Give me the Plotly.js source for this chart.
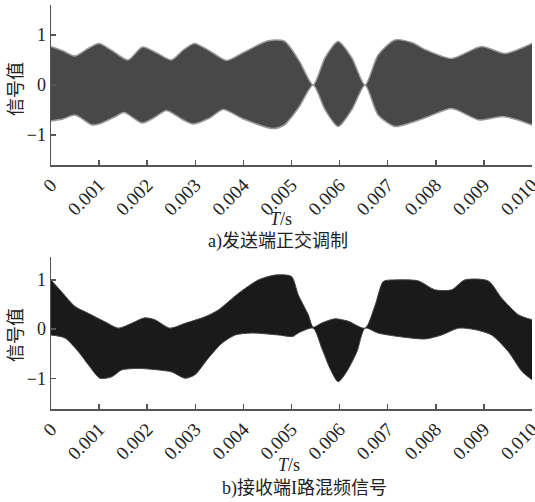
<!DOCTYPE html>
<html>
<head>
<meta charset="utf-8">
<script src="https://cdn.plot.ly/plotly-3.0.1.min.js"></script>
<style>
html,body{margin:0;padding:0;background:#fff;}
#chart{width:535px;height:502px;}
</style>
</head>
<body>
<div id="chart"></div>
<script>
// ---- Data (envelopes; time in seconds) ----
// a) transmitter quadrature-modulated signal
const topUpperT = [0,0.00025,0.0005,0.00075,0.001,0.00125,0.0016,0.0019,0.0022,0.0025,0.00275,0.00298,0.0033,0.00365,0.004,0.0045,0.00485,0.00515,0.00545,0.0057,0.00597,0.00625,0.00653,0.0068,0.00715,0.0075,0.0078,0.00833,0.00895,0.00944,0.01];
const topUpperV = [0.77,0.68,0.58,0.72,0.83,0.70,0.50,0.76,0.64,0.50,0.70,0.83,0.68,0.49,0.65,0.88,0.88,0.50,0.0,0.55,0.87,0.55,0.0,0.60,0.90,0.85,0.70,0.53,0.77,0.63,0.83];
const topLowerT = [0,0.00025,0.0005,0.00085,0.001,0.0013,0.00152,0.0019,0.0022,0.0024,0.00275,0.00295,0.0033,0.00358,0.004,0.0046,0.00485,0.00515,0.00545,0.0057,0.00597,0.00625,0.00653,0.0068,0.00715,0.0075,0.00785,0.00833,0.0089,0.0094,0.01];
const topLowerV = [-0.72,-0.68,-0.60,-0.80,-0.78,-0.65,-0.55,-0.76,-0.62,-0.51,-0.70,-0.78,-0.66,-0.49,-0.68,-0.87,-0.80,-0.45,0.0,-0.50,-0.83,-0.50,0.0,-0.60,-0.83,-0.75,-0.63,-0.47,-0.70,-0.63,-0.80];

// b) receiver I-channel mixing signal
const botUpperT = [0,0.00022,0.0005,0.00078,0.00112,0.0014,0.00168,0.00195,0.00216,0.00247,0.00279,0.0032,0.00348,0.0039,0.00431,0.00466,0.005,0.00514,0.00535,0.00545,0.00562,0.0059,0.00618,0.00653,0.00674,0.00691,0.00715,0.00764,0.00798,0.00833,0.0086,0.00909,0.00937,0.00972,0.01];
const botUpperV = [1.0,0.76,0.46,0.32,0.15,0.02,0.12,0.23,0.19,0.02,0.12,0.25,0.39,0.73,1.0,1.1,1.07,0.70,0.29,0.04,0.12,0.21,0.16,0.02,0.49,0.97,1.0,0.98,0.80,0.80,1.0,0.98,0.63,0.29,0.19];
const botLowerT = [0,0.00029,0.00057,0.00078,0.00102,0.00126,0.00147,0.00182,0.00223,0.00251,0.00279,0.00299,0.00327,0.00355,0.00383,0.00417,0.00473,0.00503,0.00514,0.00545,0.00563,0.0058,0.00597,0.00615,0.00636,0.00653,0.0068,0.00722,0.00778,0.00812,0.00847,0.00881,0.00916,0.00951,0.00979,0.01];
const botLowerV = [-0.12,-0.18,-0.46,-0.73,-1.0,-0.97,-0.83,-0.80,-0.83,-0.87,-1.0,-0.93,-0.59,-0.29,-0.12,-0.08,-0.12,-0.15,-0.08,0.02,-0.39,-0.80,-1.07,-0.86,-0.46,0.02,-0.08,-0.15,-0.20,-0.12,0.02,-0.01,-0.12,-0.46,-0.86,-1.03];

// Tick labels
const xTickVals = [0,0.001,0.002,0.003,0.004,0.005,0.006,0.007,0.008,0.009,0.010];
const xTickText = ['0','0.001','0.002','0.003','0.004','0.005','0.006','0.007','0.008','0.009','0.010'];
const yTickVals = [-1,0,1];
const yTickText = ['\u22121','0','1'];

// Text
const yTitle = '信号值';
const xTitle = '<i>T</i>/s';
const captionA = 'a)发送端正交调制';
const captionB = 'b)接收端I路混频信号';

// ---- Layout helpers ----
const W = 535, H = 502;
const px = v => v / W;
const py = v => 1 - v / H;
const serif = '"Liberation Serif", "Noto Sans CJK SC", serif';

const topFill = '#484848';
const botFill = '#1a1a1a';

function env(x, y, xa, ya, color, edge, width, fill) {
  const t = {x: x, y: y, xaxis: xa, yaxis: ya, mode: 'lines',
    line: {color: edge, width: width, shape: 'spline', smoothing: 0.7}, hoverinfo: 'skip'};
  if (fill) { t.fill = 'tonexty'; t.fillcolor = color; }
  return t;
}

const traces = [
  env(topUpperT, topUpperV, 'x', 'y', topFill, '#9a9a9a', 1.5, false),
  env(topLowerT, topLowerV, 'x', 'y', topFill, '#9a9a9a', 1.5, true),
  env(botUpperT, botUpperV, 'x2', 'y2', botFill, '#444', 1, false),
  env(botLowerT, botLowerV, 'x2', 'y2', botFill, '#444', 1, true)
];

const axisCommon = {
  showline: true, linecolor: '#555', linewidth: 1.5,
  ticks: 'inside', ticklen: 5, tickwidth: 1.5, tickcolor: '#555',
  showgrid: false, zeroline: false, mirror: false,
  ticklabeloverflow: 'allow',
  tickfont: {family: serif, size: 18, color: '#222'}
};
const xTickFont = {family: serif, size: 19, color: '#222'};

const xDomain = [px(51), px(532)];

const layout = {
  width: W, height: H,
  margin: {l: 0, r: 0, t: 0, b: 0},
  paper_bgcolor: '#fff', plot_bgcolor: '#fff',
  showlegend: false,
  xaxis: Object.assign({}, axisCommon, {domain: xDomain, range: [0, 0.01], anchor: 'y',
    tickmode: 'array', tickvals: xTickVals, ticktext: xTickText, tickangle: -45, tickfont: xTickFont}),
  yaxis: Object.assign({}, axisCommon, {domain: [py(165), py(5)], range: [-1.6, 1.6], anchor: 'x',
    tickmode: 'array', tickvals: yTickVals.concat([1.6]), ticktext: yTickText.concat([''])}),
  xaxis2: Object.assign({}, axisCommon, {domain: xDomain, range: [0, 0.01], anchor: 'y2',
    tickmode: 'array', tickvals: xTickVals, ticktext: xTickText, tickangle: -45, tickfont: xTickFont}),
  yaxis2: Object.assign({}, axisCommon, {domain: [py(409.3), py(257.3)], range: [-1.63, 1.46], anchor: 'x2',
    tickmode: 'array', tickvals: yTickVals.concat([1.46]), ticktext: yTickText.concat([''])}),
  annotations: [
    {text: yTitle, x: px(16), y: py(89), textangle: -90},
    {text: yTitle, x: px(16), y: py(335), textangle: -90},
    {text: xTitle, x: px(281), y: py(219)},
    {text: xTitle, x: px(289), y: py(465)},
    {text: captionA, x: px(278), y: py(241)},
    {text: captionB, x: px(304), y: py(488)}
  ].map(a => Object.assign({xref: 'paper', yref: 'paper', showarrow: false,
      xanchor: 'center', yanchor: 'middle',
      font: {family: serif, size: 18, color: '#222'}}, a))
};

Plotly.newPlot('chart', traces, layout, {displayModeBar: false, staticPlot: true});
</script>
</body>
</html>
